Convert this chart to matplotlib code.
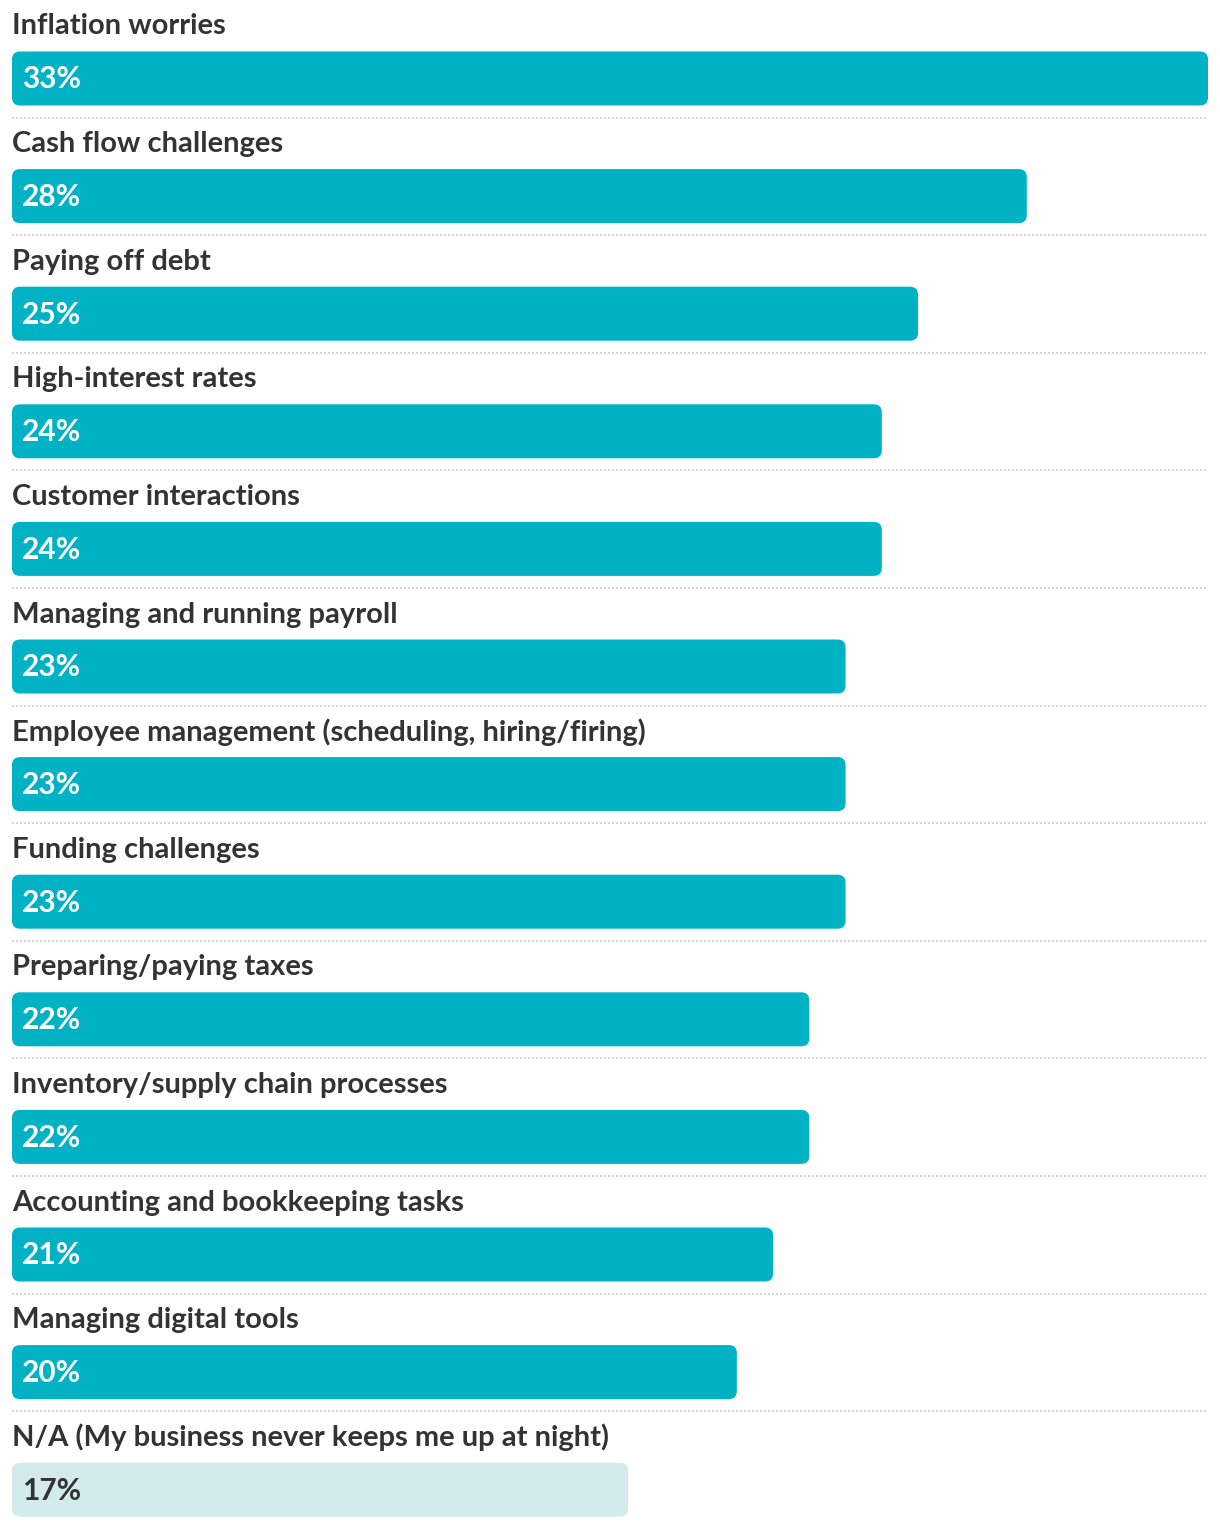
import matplotlib
matplotlib.use("Agg")
import matplotlib.pyplot as plt
from matplotlib.patches import FancyBboxPatch

categories = [
    "Inflation worries",
    "Cash flow challenges",
    "Paying off debt",
    "High-interest rates",
    "Customer interactions",
    "Managing and running payroll",
    "Employee management (scheduling, hiring/firing)",
    "Funding challenges",
    "Preparing/paying taxes",
    "Inventory/supply chain processes",
    "Accounting and bookkeeping tasks",
    "Managing digital tools",
    "N/A (My business never keeps me up at night)",
]
values = [33, 28, 25, 24, 24, 23, 23, 23, 22, 22, 21, 20, 17]
highlight = [True] * 12 + [False]

W, H = 1220, 1528
fig = plt.figure(figsize=(W / 100, H / 100), dpi=100)
ax = fig.add_axes([0, 0, 1, 1])
ax.set_axis_off()

x0_px, x1_px = 12, 1208
px_per_unit = (x1_px - x0_px) / max(values)
ax.set_xlim(-x0_px / px_per_unit, (W - x0_px) / px_per_unit)
ax.set_ylim(H, 0)

pitch = 117.6
first_center = 78.5
bar_h = 54
radius_px = 8

dark = "#00B2C3"
light = "#D4EBED"
text_col = "#333333"
font = "Lato"

for i, (cat, v, hl) in enumerate(zip(categories, values, highlight)):
    yc = first_center + i * pitch
    top = yc - bar_h / 2
    patch = FancyBboxPatch((0, top), v, bar_h,
                           boxstyle=f"round,pad=0,rounding_size={radius_px / px_per_unit}",
                           mutation_aspect=px_per_unit,
                           facecolor=dark if hl else light, edgecolor="none")
    ax.add_patch(patch)
    ax.text(10 / px_per_unit, yc + 1, f"{v}%", color="white" if hl else text_col,
            fontsize=21.5, fontfamily=font, fontweight="bold", va="center", ha="left")
    ax.text(0, top - 25, cat, color=text_col, fontsize=21, fontfamily=font,
            fontweight="bold", va="center", ha="left")
    if i < len(categories) - 1:
        ysep = yc + bar_h / 2 + 12
        ax.plot([0, max(values)], [ysep, ysep], color="#cccccc", lw=1.2,
                linestyle=(0, (1.2, 1.2)))

fig.savefig("out.png", dpi=100)
